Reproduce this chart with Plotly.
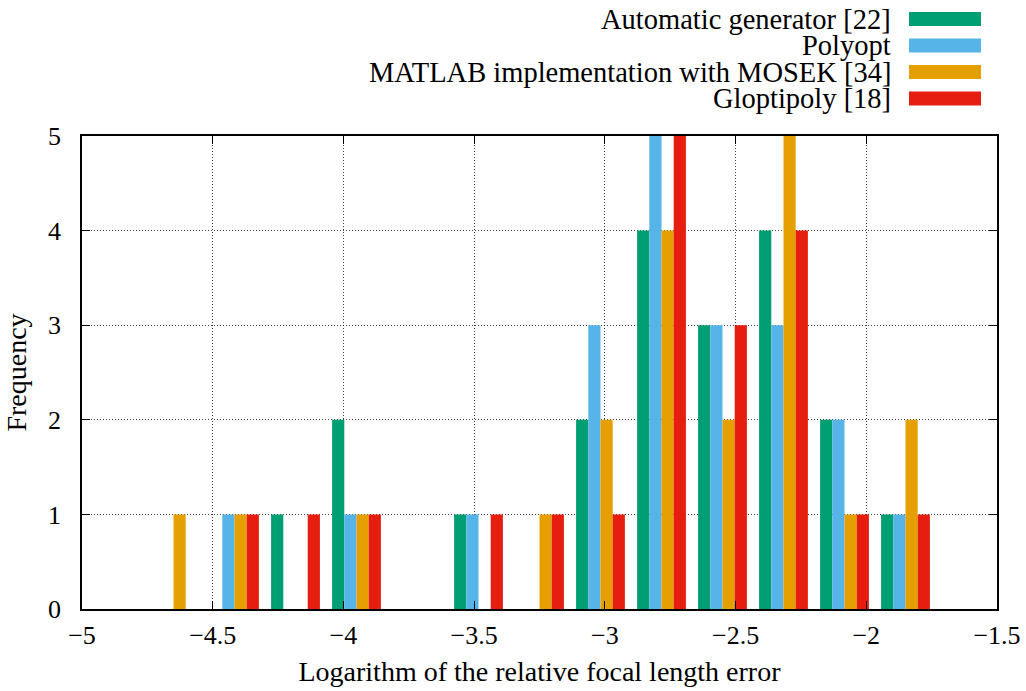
import plotly.graph_objects as go

# ---- data ----
bin_centers = [-4.65, -4.4167, -4.1833, -3.95, -3.7167, -3.4833, -3.25,
               -3.0167, -2.7833, -2.55, -2.3167, -2.0833, -1.85]
auto_generator = [0, 0, 1, 2, 0, 1, 0, 2, 4, 3, 4, 2, 1]
polyopt = [0, 1, 0, 1, 0, 1, 0, 3, 5, 3, 3, 2, 1]
matlab_mosek = [1, 1, 0, 1, 0, 0, 1, 2, 4, 2, 5, 1, 2]
gloptipoly = [0, 1, 1, 1, 0, 1, 1, 1, 5, 3, 4, 1, 1]

series_names = ["Automatic generator [22]", "Polyopt",
                "MATLAB implementation with MOSEK [34]", "Gloptipoly [18]"]
series_values = [auto_generator, polyopt, matlab_mosek, gloptipoly]
series_colors = ["#009E73", "#56B4E9", "#E69F00", "#E51E10"]

x_tickvals = [-5, -4.5, -4, -3.5, -3, -2.5, -2, -1.5]
x_ticktext = ["\u22125", "\u22124.5", "\u22124", "\u22123.5", "\u22123",
              "\u22122.5", "\u22122", "\u22121.5"]
y_tickvals = [0, 1, 2, 3, 4, 5]

FONT = "Liberation Serif"
FS_TICK = 26
FS_TITLE = 28
FS_LEG = 28.5

W, H = 1026, 691
ML, MR, MT, MB = 82, 29, 136, 82
PW, PH = W - ML - MR, H - MT - MB


def px2paper_x(px):
    return (px - ML) / PW


def px2paper_y(py):
    return (H - MB - py) / PH


fig = go.Figure()
for name, vals, col in zip(series_names, series_values, series_colors):
    fig.add_trace(go.Bar(x=bin_centers, y=vals, name=name,
                         marker=dict(color=col, line=dict(width=0)),
                         showlegend=False))

# manual legend (gnuplot style: right-aligned text, swatch on the right)
row_y = [19, 45.5, 72, 98.5]
for name, col, ry in zip(series_names, series_colors, row_y):
    fig.add_annotation(x=px2paper_x(893), y=px2paper_y(ry), xref="paper", yref="paper",
                       text=name, showarrow=False, xanchor="right", yanchor="middle",
                       font=dict(family=FONT, size=FS_LEG, color="black"))
    fig.add_shape(type="rect", xref="paper", yref="paper",
                  x0=px2paper_x(909), x1=px2paper_x(981),
                  y0=px2paper_y(ry + 7), y1=px2paper_y(ry - 7),
                  fillcolor=col, line=dict(width=0))

axis_common = dict(
    showline=True, linecolor="black", linewidth=1.5, mirror="ticks",
    ticks="inside", ticklen=8, tickwidth=1.2, tickcolor="black",
    showgrid=True, gridcolor="rgba(0,0,0,0.75)", gridwidth=1, griddash="1px,2px",
    zeroline=False,
    tickfont=dict(family=FONT, size=FS_TICK, color="black"),
)

fig.update_layout(
    width=W, height=H,
    margin=dict(l=ML, r=MR, t=MT, b=MB, autoexpand=False),
    paper_bgcolor="white", plot_bgcolor="white",
    barmode="group", bargap=0.2, bargroupgap=0,
    font=dict(family=FONT, size=FS_TICK, color="black"),
    xaxis=dict(range=[-5, -1.5], tickvals=x_tickvals, ticktext=x_ticktext,
               ticklabelstandoff=2,
               title=dict(text="Logarithm of the relative focal length error",
                          font=dict(family=FONT, size=FS_TITLE, color="black"), standoff=12),
               **axis_common),
    yaxis=dict(range=[0, 5], tickvals=y_tickvals, ticklabelstandoff=14,
               title=dict(text="Frequency",
                          font=dict(family=FONT, size=FS_TITLE, color="black"), standoff=13),
               **axis_common),
)

fig.write_html("out.html", config={"displayModeBar": False},
               post_script="document.body.style.margin='0px';document.body.style.padding='0px';")
